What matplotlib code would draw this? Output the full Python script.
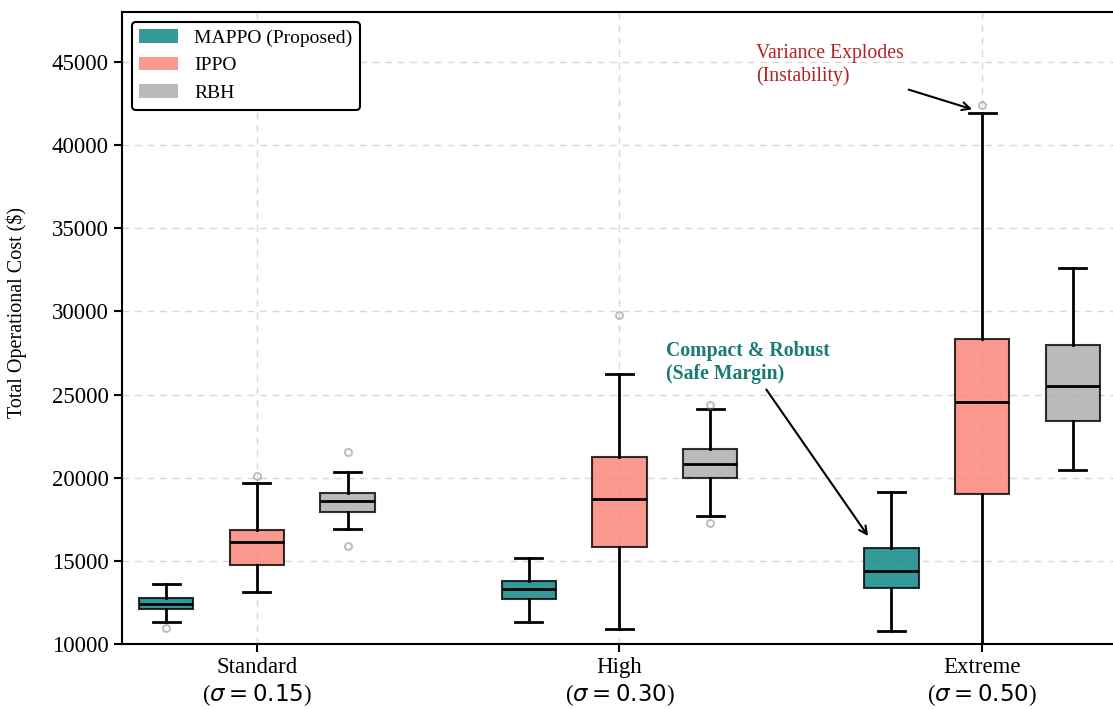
import matplotlib
matplotlib.use("Agg")
import matplotlib.pyplot as plt
from matplotlib.patches import Patch

plt.rcParams['font.family'] = ['Liberation Serif', 'DejaVu Serif']
plt.rcParams['mathtext.fontset'] = 'dejavusans'

categories = ["Standard\n($\\sigma = 0.15$)", "High\n($\\sigma = 0.30$)", "Extreme\n($\\sigma = 0.50$)"]
methods = ["MAPPO (Proposed)", "IPPO", "RBH"]
colors = ["#008080", "#FA8072", "#A9A9A9"]

# per method, per category: [whislo, q1, med, q3, whishi]
mappo_stats = [[11340, 12090, 12390, 12750, 13610],
               [11320, 12690, 13290, 13790, 15190],
               [10800, 13390, 14410, 15790, 19160]]
ippo_stats = [[13150, 14750, 16150, 16840, 19700],
              [10920, 15850, 18740, 21270, 26240],
              [7000, 19020, 24540, 28330, 41950]]
rbh_stats = [[16900, 17960, 18600, 19080, 20360],
             [17680, 20000, 20840, 21750, 24110],
             [20460, 23430, 25520, 27960, 32600]]
mappo_fliers = [[10940], [], []]
ippo_fliers = [[20100], [29790], [42420]]
rbh_fliers = [[21570, 15910], [24370, 17300], []]

all_stats = [mappo_stats, ippo_stats, rbh_stats]
all_fliers = [mappo_fliers, ippo_fliers, rbh_fliers]
offsets = [-0.25, 0.0, 0.25]

fig = plt.figure(figsize=(11.13, 7.09), dpi=100)
ax = fig.add_axes([0.1096, 0.0917, 0.894, 0.8914])

for m, (stats_m, fl_m, off, col) in enumerate(zip(all_stats, all_fliers, offsets, colors)):
    bxp_stats = []
    for s, f in zip(stats_m, fl_m):
        bxp_stats.append(dict(whislo=s[0], q1=s[1], med=s[2], q3=s[3], whishi=s[4], fliers=f))
    pos = [i + off for i in range(len(categories))]
    ax.bxp(bxp_stats, positions=pos, widths=0.15, patch_artist=True, manage_ticks=False,
           boxprops=dict(facecolor=col, alpha=0.8, edgecolor='black', linewidth=1.5),
           medianprops=dict(color='black', linewidth=2),
           whiskerprops=dict(color='black', linewidth=2),
           capprops=dict(color='black', linewidth=2),
           flierprops=dict(marker='o', markerfacecolor='none', markeredgecolor='gray',
                           markersize=5, alpha=0.5, markeredgewidth=1.5),
           zorder=3)

ax.set_xlim(-0.372, 2.372)
ax.set_ylim(10000, 48000)
ax.set_xticks(range(len(categories)))
ax.set_xticklabels(categories, fontsize=16.5)
ax.set_yticks(range(10000, 45001, 5000))
ax.tick_params(axis='y', labelsize=16.5, length=6, width=1.5)
ax.tick_params(axis='x', length=6, width=1.5)
ax.set_ylabel("Total Operational Cost (\\$)", fontsize=14.5)
ax.yaxis.set_label_coords(-0.0955, 0.525)
ax.grid(True, linestyle=(0, (5, 4)), color='#d8d8d8', linewidth=1, zorder=0)
ax.set_axisbelow(True)
for sp in ax.spines.values():
    sp.set_linewidth(1.5)

handles = [Patch(facecolor=c, alpha=0.8, label=l) for c, l in zip(colors, methods)]
leg = ax.legend(handles=handles, loc='upper left', fontsize=14, frameon=True, fancybox=True,
                edgecolor='black', framealpha=1)
leg.get_frame().set_linewidth(1.5)

ax.annotate("Compact & Robust\n(Safe Margin)", xy=(1.69, 16350), xytext=(1.354, 26900),
            ha='center', va='center', fontsize=14.2, fontweight='bold', color='#1a7a74',
            multialignment='left',
            arrowprops=dict(arrowstyle='->', color='black', lw=1.5))
ax.annotate("Variance Explodes\n(Instability)", xy=(1.98, 42100), xytext=(1.58, 44800),
            ha='center', va='center', fontsize=14.2, color='#b22222',
            multialignment='left',
            arrowprops=dict(arrowstyle='->', color='black', lw=1.5))

fig.savefig("out.png", dpi=100)
